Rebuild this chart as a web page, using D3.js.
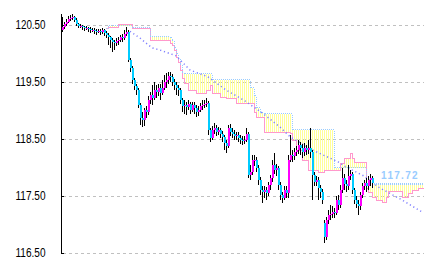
<!DOCTYPE html>
<html>
<head>
<meta charset="utf-8">
<script src="https://cdn.jsdelivr.net/npm/d3@7"></script>
<style>
  body { margin: 0; background: #fff; }
  svg { display: block; }
</style>
</head>
<body>
<svg id="chart"></svg>
<script>
    // candles, one per bar (bar 0 = left edge)
    var opens = [
      120.41,120.46,120.52,120.55,120.61,120.62,120.64,120.59,120.52,120.48,
      120.48,120.46,120.45,120.45,120.43,120.41,120.41,120.39,120.38,120.39,
      120.38,120.41,120.36,120.32,120.29,120.24,120.20,120.18,120.22,120.24,
      120.29,120.27,120.34,120.38,119.89,119.75,119.54,119.43,119.36,119.10,
      118.87,118.83,119.01,118.97,119.18,119.27,119.22,119.36,119.32,119.39,
      119.31,119.39,119.50,119.54,119.61,119.59,119.50,119.45,119.39,119.36,
      119.18,119.08,119.10,119.06,119.11,119.01,119.10,119.04,118.97,119.01,
      119.08,119.10,119.11,119.13,118.66,118.52,118.66,118.69,118.62,118.66,
      118.59,118.54,118.43,118.38,118.69,118.62,118.59,118.55,118.57,118.52,
      118.48,118.46,118.48,118.59,117.87,117.92,118.13,118.13,117.99,117.78,
      117.61,117.57,117.61,117.55,117.69,117.82,118.04,117.96,117.99,117.69,
      117.52,117.46,117.61,117.55,118.13,118.22,118.20,118.27,118.31,118.39,
      118.34,118.27,118.34,118.31,118.34,118.27,117.87,117.75,117.78,117.64,
      117.57,117.03,116.78,117.08,117.17,117.18,117.22,117.20,117.43,117.34,
      117.61,117.82,117.71,117.68,117.85,117.89,117.61,117.43,117.36,117.32,
      117.52,117.68,117.73,117.68,117.78,117.82
    ];
    var highs = [
      120.64,120.55,120.61,120.66,120.68,120.69,120.66,120.62,120.54,120.52,
      120.50,120.48,120.48,120.46,120.46,120.45,120.45,120.43,120.43,120.43,
      120.45,120.43,120.39,120.36,120.31,120.27,120.24,120.27,120.29,120.32,
      120.34,120.41,120.46,120.41,119.92,119.78,119.57,119.46,119.39,119.13,
      118.97,119.04,119.08,119.25,119.32,119.45,119.50,119.45,119.46,119.46,
      119.54,119.62,119.66,119.68,119.68,119.64,119.55,119.50,119.45,119.39,
      119.22,119.18,119.15,119.18,119.15,119.15,119.15,119.10,119.08,119.13,
      119.18,119.18,119.22,119.17,118.69,118.73,118.78,118.75,118.71,118.69,
      118.64,118.57,118.48,118.75,118.76,118.69,118.66,118.62,118.62,118.57,
      118.55,118.55,118.69,118.62,118.04,118.22,118.22,118.18,118.04,117.83,
      117.68,117.68,117.66,117.75,117.87,118.13,118.25,118.06,118.03,117.75,
      117.57,117.68,117.68,118.22,118.57,118.31,118.34,118.38,118.48,118.45,
      118.41,118.43,118.39,118.48,118.69,118.31,117.92,117.85,117.83,117.69,
      117.62,117.08,117.13,117.25,117.34,117.32,117.29,117.50,117.52,117.69,
      117.99,117.89,117.78,118.04,117.96,117.92,117.64,117.50,117.43,117.57,
      117.73,117.78,117.82,117.85,117.89,117.85
    ];
    var lows = [
      120.38,120.43,120.48,120.54,120.57,120.59,120.55,120.48,120.45,120.45,
      120.41,120.39,120.41,120.38,120.36,120.38,120.34,120.32,120.36,120.32,
      120.34,120.31,120.27,120.15,120.10,120.03,120.06,120.13,120.15,120.20,
      120.20,120.24,120.31,119.85,119.68,119.46,119.36,119.27,119.04,118.75,
      118.71,118.73,118.87,118.92,119.11,119.10,119.18,119.22,119.25,119.18,
      119.27,119.36,119.39,119.46,119.50,119.43,119.36,119.27,119.25,119.11,
      118.97,118.94,118.92,119.01,118.94,118.97,118.94,118.89,118.90,118.97,
      119.01,119.04,119.06,118.57,118.45,118.48,118.59,118.55,118.57,118.52,
      118.45,118.31,118.25,118.34,118.55,118.52,118.48,118.48,118.45,118.41,
      118.39,118.41,118.45,117.82,117.78,117.87,118.03,117.92,117.69,117.52,
      117.38,117.46,117.43,117.50,117.61,117.75,117.89,117.85,117.61,117.43,
      117.38,117.43,117.46,117.46,118.10,118.10,118.13,118.20,118.24,118.22,
      118.17,118.20,118.22,118.24,118.17,117.43,117.68,117.68,117.43,117.46,
      117.36,116.68,116.73,117.01,117.08,117.11,117.11,117.17,117.25,117.29,
      117.55,117.61,117.57,117.61,117.78,117.53,117.36,117.29,117.17,117.25,
      117.46,117.61,117.57,117.61,117.68,117.64
    ];
    var closes = [
      120.46,120.52,120.55,120.61,120.62,120.64,120.59,120.52,120.48,120.48,
      120.46,120.45,120.45,120.43,120.41,120.41,120.39,120.38,120.39,120.38,
      120.41,120.36,120.32,120.29,120.24,120.20,120.18,120.22,120.24,120.29,
      120.27,120.34,120.38,119.89,119.75,119.54,119.43,119.36,119.10,118.87,
      118.83,119.01,118.97,119.18,119.27,119.22,119.36,119.32,119.39,119.31,
      119.39,119.50,119.54,119.61,119.59,119.50,119.45,119.39,119.36,119.18,
      119.08,119.10,119.06,119.11,119.01,119.10,119.04,118.97,119.01,119.08,
      119.10,119.11,119.13,118.66,118.52,118.66,118.69,118.62,118.66,118.59,
      118.54,118.43,118.38,118.69,118.62,118.59,118.55,118.57,118.52,118.48,
      118.46,118.48,118.59,117.87,117.92,118.13,118.13,117.99,117.78,117.61,
      117.57,117.61,117.55,117.69,117.82,118.04,117.96,117.99,117.69,117.52,
      117.46,117.61,117.55,118.13,118.22,118.20,118.27,118.31,118.39,118.34,
      118.27,118.34,118.31,118.34,118.27,117.87,117.75,117.78,117.64,117.57,
      117.43,116.78,117.08,117.17,117.18,117.22,117.20,117.43,117.34,117.61,
      117.82,117.71,117.68,117.85,117.89,117.61,117.43,117.36,117.32,117.52,
      117.68,117.73,117.68,117.78,117.82,117.72
    ];

    // cloud (leading spans), bar index where each step starts
    var cloudIdx = [22,23,28,35,44,54,55,56,57,58,59,60,61,63,67,72,74,75,79,82,
                    87,94,96,97,99,101,114,115,117,120,123,128,131,136,139,141,144,145,146,152,
                    153,155,157,160,162,163,170,173,175,178,181];
    var spanA = [120.45,120.50,120.50,120.46,120.31,120.29,120.24,120.11,120.01,119.92,
                 119.82,119.68,119.66,119.66,119.66,119.66,119.66,119.55,119.55,119.55,
                 119.55,119.41,119.27,119.06,118.97,118.96,118.96,118.68,118.68,118.68,
                 118.68,118.68,118.68,118.01,118.01,118.01,118.01,118.01,118.01,117.71,
                 117.71,117.71,117.71,117.71,117.71,117.71,117.71,117.71,117.71,117.71,117.71];
    var spanB = [120.45,120.46,120.52,120.45,120.24,120.18,120.15,120.06,119.94,119.85,
                 119.71,119.57,119.48,119.36,119.31,119.36,119.45,119.31,119.24,119.22,
                 119.13,119.13,118.97,118.89,118.89,118.62,118.61,118.48,118.31,118.13,
                 117.96,117.92,117.96,117.96,118.08,118.17,118.25,118.17,118.10,117.64,
                 117.57,117.48,117.43,117.39,117.48,117.59,117.48,117.55,117.61,117.64,117.64];

    // dotted average line
    var maIdx = [34,39,45,49,57,64,73,82,88,91,100,109,114,125,138,142,151,158,170,180];
    var maVals = [120.39,120.27,120.10,120.06,119.96,119.71,119.59,119.36,119.24,119.18,
                  118.96,118.71,118.54,118.31,118.10,118.01,117.85,117.66,117.43,117.22];

    var tickVals = [120.5, 119.5, 118.5, 117.5, 116.5];
    var lastLabel = '117.72';

    var width = 431;
    var height = 267;

    var bars = opens.map(function(o, i) {
        return { i: i, o: o, h: highs[i], l: lows[i], c: closes[i] };
    });
    var cloud = cloudIdx.map(function(idx, k) {
        return { i: idx, a: spanA[k], b: spanB[k] };
    });
    var ma = maIdx.map(function(idx, k) { return { i: idx, v: maVals[k] }; });

    // one hatch stripe per bar slot, taking the step value in force there
    var stripes = d3.range(cloudIdx[0], cloudIdx[cloudIdx.length - 1]).map(function(i) {
        var k = d3.bisectRight(cloudIdx, i) - 1;
        return { i: i, a: spanA[k], b: spanB[k] };
    });

    var chart = d3.select('#chart')
        .attr('width', width)
        .attr('height', height);

    var x = d3.scaleLinear().domain([0, 181]).range([62, 424]);
    var y = d3.scaleLinear().domain([116.5, 120.7]).range([253, 13.6]);
    var py = function(v){ return Math.round(y(v)) + 0.5; };

    // grid
    chart.append('g').selectAll('line')
        .data(tickVals)
        .enter().append('line')
        .attr('x1', 63).attr('x2', 424)
        .attr('y1', py).attr('y2', py)
        .attr('stroke', '#c0c0c0')
        .attr('stroke-dasharray', '3,3')
        .attr('shape-rendering', 'crispEdges');

    // axis
    var yAxis = d3.axisLeft(y)
        .tickValues(tickVals)
        .tickSizeInner(-3)
        .tickSizeOuter(0)
        .tickPadding(15)
        .tickFormat(d3.format('.2f'));
    var axisG = chart.append('g')
        .attr('transform', 'translate(60.5,0)')
        .call(yAxis);
    axisG.select('.domain').attr('stroke', '#000').attr('shape-rendering', 'crispEdges');
    axisG.selectAll('.tick line').attr('stroke', '#000').attr('shape-rendering', 'crispEdges');
    axisG.selectAll('.tick text')
        .attr('fill', '#000')
        .attr('textLength', 30)
        .attr('lengthAdjust', 'spacingAndGlyphs')
        .style('font-family', '"Liberation Sans", Arial, sans-serif')
        .style('font-size', '12px');

    // cloud hatch
    chart.append('g').attr('shape-rendering', 'crispEdges')
        .selectAll('line')
        .data(stripes)
        .enter().append('line')
        .attr('x1', function(d){ return x(d.i) + 0.5; })
        .attr('x2', function(d){ return x(d.i) + 0.5; })
        .attr('y1', function(d){ return py(d.a); })
        .attr('y2', function(d){ return py(d.b); })
        .attr('stroke', '#ffff99');

    var lineA = d3.line().curve(d3.curveStepAfter)
        .x(function(d){ return x(d.i); })
        .y(function(d){ return py(d.a); });
    var lineB = d3.line().curve(d3.curveStepAfter)
        .x(function(d){ return x(d.i); })
        .y(function(d){ return py(d.b); });
    chart.append('path').datum(cloud).attr('d', lineB)
        .attr('fill', 'none').attr('stroke', '#ff99cc').attr('shape-rendering', 'crispEdges');
    chart.append('path').datum(cloud).attr('d', lineA)
        .attr('fill', 'none').attr('stroke', '#99ccff')
        .attr('stroke-dasharray', '1,1')
        .attr('shape-rendering', 'crispEdges');

    // dotted average
    var maLine = d3.line()
        .x(function(d){ return x(d.i); })
        .y(function(d){ return y(d.v); });
    chart.append('path').datum(ma).attr('d', maLine)
        .attr('fill', 'none').attr('stroke', '#8080ff')
        .attr('stroke-width', 1.5)
        .attr('stroke-dasharray', '1.2,2.8');

    // candles
    var candles = chart.append('g').attr('shape-rendering', 'crispEdges');
    candles.selectAll('line')
        .data(bars)
        .enter().append('line')
        .attr('x1', function(d){ return x(d.i) + 0.5; })
        .attr('x2', function(d){ return x(d.i) + 0.5; })
        .attr('y1', function(d){ return y(d.h); })
        .attr('y2', function(d){ return y(d.l); })
        .attr('stroke', '#000');
    candles.selectAll('rect')
        .data(bars)
        .enter().append('rect')
        .attr('x', function(d){ return x(d.i); })
        .attr('width', 2)
        .attr('y', function(d){ return y(Math.max(d.o, d.c)); })
        .attr('height', function(d){ return Math.max(1, Math.abs(y(d.o) - y(d.c))); })
        .attr('fill', function(d){ return d.c >= d.o ? '#ff00ff' : '#00ccff'; });

    // last price line and label
    var last = bars[bars.length - 1];
    chart.append('line')
        .attr('x1', x(last.i) + 2).attr('x2', x(181))
        .attr('y1', py(last.c)).attr('y2', py(last.c))
        .attr('stroke', '#99ccff')
        .attr('stroke-dasharray', '1,1')
        .attr('shape-rendering', 'crispEdges');
    chart.append('text')
        .attr('x', x(last.i + 14))
        .attr('y', y(last.c) - 4)
        .attr('text-anchor', 'middle')
        .attr('fill', '#99ccff')
        .style('font-family', '"Liberation Sans", Arial, sans-serif')
        .style('font-size', '10px')
        .style('font-weight', 'bold')
        .style('letter-spacing', '1.3px')
        .text(lastLabel);
</script>
</body>
</html>
